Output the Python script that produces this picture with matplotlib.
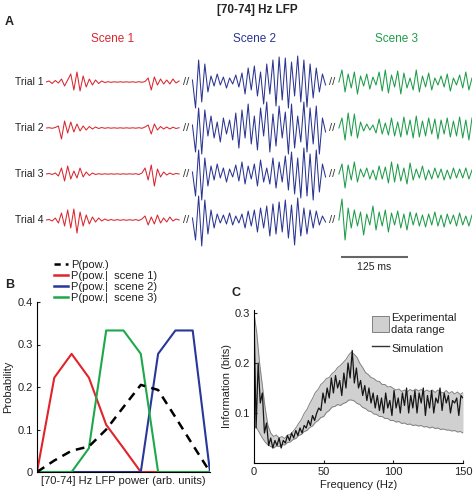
import matplotlib
matplotlib.use("Agg")
import matplotlib.pyplot as plt
from matplotlib.lines import Line2D
from matplotlib.patches import Patch
import numpy as np

plt.rcParams["font.family"] = ["Liberation Sans", "DejaVu Sans"]
plt.rcParams["text.color"] = "#222222"
plt.rcParams["axes.labelcolor"] = "#222222"
plt.rcParams["xtick.color"] = "#222222"
plt.rcParams["ytick.color"] = "#222222"

# =========================
# DATA
# =========================

SCENES = ["Scene 1", "Scene 2", "Scene 3"]
TRIALS = ["Trial 1", "Trial 2", "Trial 3", "Trial 4"]
SEGMENT_MS = 250.0

# LFP deflections (arb. units), one list per trial and scene
RED = [
    [0, 1, -1.5, 1.5, -1, 3, -4, 2, 8, -8, 10, -9, 6, -5, 3, -3, 2, -1.5, 1, -0.5, 0.3, -0.3,
     0.2, -0.2, 0.2, -0.2, 0.2, -0.2, 0.2, -0.3, 0.3, -0.3, 0.5, 4, -8, 5, -3, 3, -2, 2, -2, 3, -1, 1],
    [0, 0.3, -0.3, 0.5, 2, -11, 7, -5, 6, -4, 4, -3, 2, -2, 1.5, -1, 1, -0.5, 0.5, -0.3, 0.3, -0.2,
     0.2, -0.2, 0.2, -0.2, 0.2, -0.2, 0.2, -0.2, 0.3, -0.3, 1, 3, -6, 4, -2, 1.5, -1, 1, -1, 0.8, -0.5, 0.3],
    [0, 0.5, -0.5, 1, -2, 6, -7, 8, -5, 3, -4, 6, -3, 2, -1.5, 1, -0.5, 0.3, -0.3, 0.2, -0.2, 0.2,
     -0.2, 0.2, -0.2, 0.2, -0.2, 0.2, -0.2, 0.3, -0.5, 1, 6, -6, 9, -12, 5, -3, 2, -1, 1, -0.5, 0.5, 0],
    [0, 0.5, -1, 2, -3, 7, -6, 10, -8, 11, -13, 8, -6, 5, -4, 3, -2, 2, -1, 1, -0.5, 0.5,
     -0.4, 0.4, -0.3, 0.3, -0.3, 0.3, -0.3, 0.4, -0.5, 1, 4, -5, 3, -4, 5, -3, 2, -2, 3, -1, 1, 0],
]
BLUE = [
    [2, -26, 22, -20, 18, -10, 6, -4, 8, -3, 5, -6, 4, -2, 7, -5, 9, -12, 14, -8, 16, -14,
     10, -22, 18, -12, 22, -24, 25, -18, 24, -26, 20, -14, 26, -20, 22, -25, 18, -16, 14, -10, 8, -3],
    [3, -24, 20, -26, 18, -8, 12, -10, 6, -14, 10, -6, 8, -12, 15, -20, 18, -10, 24, -16, 12, -22,
     20, -8, 26, -24, 14, -18, 22, -10, 16, -26, 24, -20, 12, -14, 26, -24, 20, -16, 22, -26, 10, -4],
    [2, -22, 24, -26, 16, -12, 8, -6, 10, -4, 6, -8, 5, -3, 9, -7, 12, -10, 8, -5, 10, -12,
     14, -8, 6, -10, 16, -14, 12, -8, 18, -16, 22, -20, 16, -24, 26, -22, 20, -26, 24, -18, 10, -3],
    [2, -20, 24, -26, 20, -14, 10, -8, 6, -3, 5, -4, 7, -5, 4, -3, 6, -8, 9, -6, 10, -12,
     12, -8, 14, -16, 16, -14, 18, -12, 20, -18, 15, -25, 22, -16, 12, -14, 10, -8, 9, -5, 4, -2],
]
GREEN = [
    [0, 12, -10, 8, -6, 10, -12, 6, -4, 8, -7, 5, -3, 10, -9, 12, -11, 7, -5, 11, -12, 9,
     -6, 4, -8, 12, -10, 6, -5, 9, -8, 4, -3, 6, -5, 8, -9, 4, -3, 7, -6, 10, -8, 4],
    [0, 10, -12, 15, -8, 14, -10, 6, -3, 4, -2, 3, -5, 9, -6, 5, -7, 10, -8, 6, -9, 11,
     -7, 8, -10, 12, -9, 7, -8, 10, -6, 9, -11, 8, -6, 10, -9, 7, -8, 11, -10, 8, -12, 10],
    [0, 10, -14, 9, -6, 12, -8, 5, -3, 6, -5, 4, -6, 8, -5, 7, -9, 12, -8, 10, -7, 6,
     -10, 11, -6, 5, -4, 8, -6, 4, -5, 6, -4, 5, -6, 4, -5, 6, -4, 5, -4, 6, -5, 4],
    [0, 21, -20, 12, -8, 10, -6, 8, -15, 6, -5, 14, -10, 8, -6, 10, -12, 7, -5, 9, -8, 6,
     -10, 8, -5, 7, -6, 5, -7, 6, -5, 8, -6, 5, -7, 6, -4, 5, -6, 7, -5, 4, -6, 5],
]

# Panel B: probability of LFP power bins
POW_BINS = np.arange(11)
P_POW = [0, 0.027, 0.05, 0.06, 0.1, 0.153, 0.205, 0.193, 0.129, 0.064, 0]
P_SCENE1 = [0, 0.222, 0.278, 0.222, 0.111, 0.056, 0, 0, 0, 0, 0]
P_SCENE2 = [0, 0, 0, 0, 0, 0, 0, 0.278, 0.333, 0.333, 0]
P_SCENE3 = [0, 0, 0, 0.056, 0.333, 0.333, 0.278, 0, 0, 0, 0]

# Panel C: information vs frequency
BAND_UPPER = [0.30, 0.26, 0.20, 0.155, 0.11, 0.075, 0.06, 0.053, 0.056, 0.05, 0.053, 0.049, 0.056,
              0.057, 0.063, 0.07, 0.079, 0.087, 0.099, 0.107, 0.119, 0.129, 0.141, 0.147, 0.157,
              0.162, 0.169, 0.171, 0.179, 0.183, 0.191, 0.195, 0.201, 0.207, 0.216, 0.222, 0.217,
              0.211, 0.199, 0.191, 0.181, 0.177, 0.171, 0.169, 0.164, 0.163, 0.157, 0.157, 0.152,
              0.153, 0.149, 0.146, 0.148, 0.143, 0.146, 0.142, 0.147, 0.144, 0.148, 0.144, 0.147,
              0.142, 0.146, 0.143, 0.146, 0.141, 0.146, 0.142, 0.14, 0.145, 0.139, 0.143, 0.138,
              0.142, 0.137, 0.141]
BAND_LOWER = [0.075, 0.07, 0.06, 0.05, 0.042, 0.036, 0.033, 0.03, 0.034, 0.033, 0.037, 0.036,
              0.041, 0.042, 0.047, 0.049, 0.055, 0.057, 0.063, 0.065, 0.071, 0.074, 0.081, 0.085,
              0.091, 0.093, 0.101, 0.105, 0.112, 0.113, 0.117, 0.115, 0.119, 0.121, 0.126, 0.126,
              0.124, 0.119, 0.117, 0.111, 0.109, 0.104, 0.103, 0.098, 0.097, 0.093, 0.093, 0.089,
              0.089, 0.085, 0.085, 0.082, 0.083, 0.079, 0.08, 0.077, 0.078, 0.075, 0.076, 0.074,
              0.075, 0.072, 0.073, 0.07, 0.072, 0.069, 0.07, 0.067, 0.068, 0.066, 0.066, 0.064,
              0.065, 0.062, 0.063, 0.06]
SIM_INFO = [0.30, 0.07, 0.2, 0.12, 0.14, 0.06, 0.08, 0.035, 0.05, 0.03, 0.045, 0.035, 0.05, 0.03,
            0.045, 0.04, 0.055, 0.045, 0.06, 0.05, 0.065, 0.055, 0.07, 0.06, 0.075, 0.07, 0.085,
            0.075, 0.095, 0.085, 0.1, 0.11, 0.105, 0.14, 0.12, 0.15, 0.13, 0.17, 0.14, 0.175, 0.15,
            0.165, 0.135, 0.18, 0.15, 0.2, 0.17, 0.225, 0.16, 0.19, 0.15, 0.165, 0.135, 0.155,
            0.125, 0.15, 0.12, 0.14, 0.11, 0.135, 0.105, 0.13, 0.1, 0.14, 0.11, 0.125, 0.095,
            0.145, 0.11, 0.13, 0.1, 0.14, 0.115, 0.15, 0.1, 0.135, 0.11, 0.145, 0.1, 0.14, 0.12,
            0.15, 0.095, 0.135, 0.11, 0.145, 0.1, 0.13, 0.12, 0.15, 0.105, 0.14, 0.12, 0.135, 0.1,
            0.125, 0.12, 0.13, 0.095, 0.135, 0.13]

RED_C = "#d9262f"
BLUE_C = "#2b3592"
GREEN_C = "#1e9c48"

W, H = 473, 492


def main() -> None:
    fig = plt.figure(figsize=(W / 100, H / 100), dpi=100)

    # ---------- panel A ----------
    gap = 25.0
    row_step = 46.0
    axA = fig.add_axes([46 / W, 1 - 275 / H, 426 / W, 225 / H])
    axA.set_xlim(0, 3 * SEGMENT_MS + 2 * gap)
    axA.set_ylim(-193, 32)
    axA.axis("off")

    for r, trial in enumerate(TRIALS):
        base = -row_step * r
        for s, (data, col) in enumerate(((RED, RED_C), (BLUE, BLUE_C), (GREEN, GREEN_C))):
            vals = np.array(data[r], dtype=float)
            t = np.linspace(0, SEGMENT_MS, len(vals)) + s * (SEGMENT_MS + gap)
            axA.plot(t, base + vals, color=col, lw=0.75, solid_joinstyle="round")
            if s < 2:
                axA.text((s + 1) * SEGMENT_MS + s * gap + gap / 2, base, "//",
                         ha="center", va="center", fontsize=8, color="#333333")
        axA.text(-5, base, trial, ha="right", va="center", fontsize=7.5)

    for s, (name, col) in enumerate(zip(SCENES, (RED_C, BLUE_C, GREEN_C))):
        axA.text(s * (SEGMENT_MS + gap) + SEGMENT_MS / 2 - 8 * s, 43, name,
                 ha="center", va="center", fontsize=8.5, color=col)

    bar_x0 = 2 * (SEGMENT_MS + gap) + 4
    axA.plot([bar_x0, bar_x0 + 125], [-175, -175], color="#666666", lw=1.5,
             solid_capstyle="butt")
    axA.text(bar_x0 + 62.5, -180, "125 ms", ha="center", va="top", fontsize=7.5)

    fig.text(257 / W, 1 - 10 / H, "[70-74] Hz LFP", ha="center", va="center",
             fontsize=8.5, fontweight="bold")
    fig.text(5 / W, 1 - 22 / H, "A", ha="left", va="center", fontsize=9, fontweight="bold")

    # ---------- panel B ----------
    axB = fig.add_axes([37 / W, 1 - 472 / H, 173 / W, 170 / H])
    axB.plot(POW_BINS, P_SCENE1, color="#e0242c", lw=1.5)
    axB.plot(POW_BINS, P_SCENE2, color="#28379a", lw=1.5)
    axB.plot(POW_BINS, P_SCENE3, color="#1ea84c", lw=1.5)
    axB.plot(POW_BINS, P_POW, color="black", lw=1.8, dashes=(3.5, 2.5))
    axB.set_xlim(0, 10)
    axB.set_ylim(0, 0.4)
    axB.set_yticks([0, 0.1, 0.2, 0.3, 0.4])
    axB.set_yticklabels(["0", "0.1", "0.2", "0.3", "0.4"])
    axB.set_xticks([])
    axB.tick_params(axis="y", direction="in", length=2.5, labelsize=8, pad=3)
    for sp in ("top", "right"):
        axB.spines[sp].set_visible(False)
    axB.spines["left"].set_linewidth(0.8)
    axB.spines["bottom"].set_linewidth(0.8)
    axB.set_ylabel("Probability", fontsize=8, labelpad=3)
    axB.set_xlabel("[70-74] Hz LFP power (arb. units)", fontsize=8, labelpad=3)

    handles = [
        Line2D([], [], color="black", lw=1.8, dashes=(2.5, 2.0)),
        Line2D([], [], color="#e0242c", lw=1.8),
        Line2D([], [], color="#28379a", lw=1.8),
        Line2D([], [], color="#1ea84c", lw=1.8),
    ]
    labels = ["P(pow.)", "P(pow.|  scene 1)", "P(pow.|  scene 2)", "P(pow.|  scene 3)"]
    fig.legend(handles, labels, loc="upper left", bbox_to_anchor=(54 / W, 1 - 260 / H),
               frameon=False, fontsize=8, handlelength=1.3, handletextpad=0.25,
               labelspacing=0.08, borderpad=0, borderaxespad=0)
    fig.text(5 / W, 1 - 285 / H, "B", ha="left", va="center", fontsize=9, fontweight="bold")

    # ---------- panel C ----------
    axC = fig.add_axes([254 / W, 1 - 463 / H, 209 / W, 153 / H])
    band_f = np.linspace(0, 150, len(BAND_UPPER))
    sim_f = np.linspace(0, 150, len(SIM_INFO))
    axC.fill_between(band_f, BAND_LOWER, BAND_UPPER, color="#d0d0d0", lw=0)
    axC.plot(band_f, BAND_UPPER, color="#808080", lw=0.7)
    axC.plot(band_f, BAND_LOWER, color="#808080", lw=0.7)
    axC.plot(sim_f, SIM_INFO, color="#151515", lw=0.9)
    axC.set_xlim(0, 150)
    axC.set_ylim(0, 0.306)
    axC.set_xticks([0, 50, 100, 150])
    axC.set_yticks([0.1, 0.2, 0.3])
    axC.set_yticklabels(["0.1", "0.2", "0.3"])
    axC.tick_params(direction="in", length=2.5, labelsize=8, pad=3)
    for sp in ("top", "right"):
        axC.spines[sp].set_visible(False)
    axC.spines["left"].set_linewidth(0.8)
    axC.spines["bottom"].set_linewidth(0.8)
    axC.set_ylabel("Information (bits)", fontsize=8, labelpad=2)
    axC.set_xlabel("Frequency (Hz)", fontsize=8, labelpad=2)

    leg_handles = [
        Patch(facecolor="#d0d0d0", edgecolor="#808080", lw=0.7),
        Line2D([], [], color="#333333", lw=1.0),
    ]
    fig.legend(leg_handles, ["Experimental\ndata range", "Simulation"], loc="upper left",
               bbox_to_anchor=(372 / W, 1 - 313 / H), frameon=False, fontsize=8,
               handlelength=1.5, handleheight=1.8, handletextpad=0.25, labelspacing=0.55,
               borderpad=0, borderaxespad=0)
    fig.text(231 / W, 1 - 293 / H, "C", ha="left", va="center", fontsize=9, fontweight="bold")

    fig.savefig("out.png", dpi=100)


if __name__ == "__main__":
    main()
